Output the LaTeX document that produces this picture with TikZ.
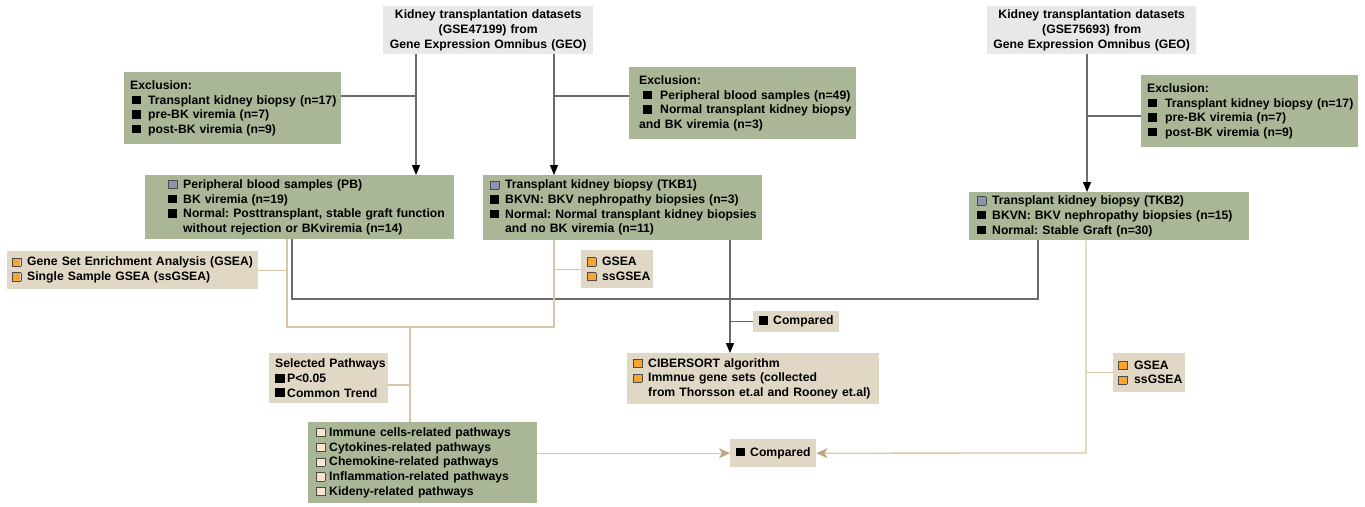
\documentclass[tikz,border=0pt]{standalone}
\usepackage{fontspec}
\setmainfont{Liberation Sans}
\usetikzlibrary{arrows.meta}
\definecolor{grn}{HTML}{A9B797}
\definecolor{boxtan}{HTML}{E1D7C5}
\definecolor{topgray}{HTML}{E8E8E8}
\definecolor{tanline}{HTML}{D9C6A8}
\definecolor{tanarrow}{HTML}{BFA47E}
\definecolor{grayline}{HTML}{6B6B6B}
\definecolor{sqblue}{HTML}{8C94B0}
\definecolor{sqorange}{HTML}{F7A52C}
\definecolor{sqpeach}{HTML}{FBE3CF}
\definecolor{sqedge}{HTML}{4A4A4A}
\newcommand\bsq[1]{\makebox[#1][l]{\rule{8.5pt}{8.5pt}}}
\newcommand\csq[2]{\makebox[#2][l]{\setlength\fboxsep{0pt}\setlength\fboxrule{0.8pt}\fcolorbox{sqedge}{#1}{\rule{0pt}{7.5pt}\hspace{7.5pt}}}}
\newcommand\ls[1]{\leftskip=#1\rightskip=-60pt plus 1fil\relax}
\tikzset{
  base/.style={anchor=north west, inner sep=0pt, align=left, text=black,
    font=\fontsize{12.2}{14.7}\selectfont\bfseries\frenchspacing},
  topbox/.style={base, fill=topgray, align=center},
  gbox/.style={base, fill=grn},
  tbox/.style={base, fill=boxtan},
  gline/.style={draw=grayline, line width=1.3pt},
  tline/.style={draw=tanline, line width=1.3pt},
  garrow/.style={gline, -{Triangle[length=10pt,width=8pt,color=black]}},
  tarrow/.style={tline, -{Stealth[length=11pt,width=10pt,inset=3pt,color=tanarrow]}},
}
\begin{document}
\begin{tikzpicture}[x=1pt,y=-1pt]
\useasboundingbox (0,0) rectangle (1365,506);
% top boxes
\node[topbox, minimum width=210pt, text width=210pt, minimum height=48pt] (top1) at (383,6)
  {Kidney transplantation datasets\\(GSE47199) from\\Gene Expression Omnibus (GEO)};
\node[topbox, minimum width=209pt, text width=209pt, minimum height=48pt] (top2) at (987,6)
  {Kidney transplantation datasets\\(GSE75693) from\\Gene Expression Omnibus (GEO)};
% exclusion boxes
\node[gbox, minimum width=217pt, text width=217pt, minimum height=72pt] (ex1) at (124,72)
  {\ls{6pt}Exclusion:\\\hspace*{2pt}\bsq{16pt}Transplant kidney biopsy (n=17)\\\hspace*{2pt}\bsq{16pt}pre-BK viremia (n=7)\\\hspace*{2pt}\bsq{16pt}post-BK viremia (n=9)\par};
\node[gbox, minimum width=227pt, text width=227pt, minimum height=72pt] (ex2) at (629,67)
  {\ls{10pt}Exclusion:\\\hspace*{4pt}\bsq{17pt}Peripheral blood samples (n=49)\\\hspace*{4pt}\bsq{17pt}Normal transplant kidney biopsy\\and BK viremia (n=3)\par};
\node[gbox, minimum width=217pt, text width=217pt, minimum height=72pt] (ex3) at (1141,75)
  {\ls{6pt}Exclusion:\\\hspace*{1pt}\bsq{17pt}Transplant kidney biopsy (n=17)\\\hspace*{1pt}\bsq{17pt}pre-BK viremia (n=7)\\\hspace*{1pt}\bsq{17pt}post-BK viremia (n=9)\par};
% dataset boxes
\node[gbox, minimum width=309pt, text width=309pt, minimum height=64pt] (pb) at (145,175)
  {\ls{23pt}\csq{sqblue}{15pt}Peripheral blood samples (PB)\\\bsq{15pt}BK viremia (n=19)\\\bsq{15pt}Normal: Posttransplant, stable graft function\\\hspace*{15pt}without rejection or BKviremia (n=14)\par};
\node[gbox, minimum width=279pt, text width=279pt, minimum height=65pt] (tkb1) at (483,175)
  {\ls{7pt}\csq{sqblue}{15pt}Transplant kidney biopsy (TKB1)\\\bsq{15pt}BKVN: BKV nephropathy biopsies (n=3)\\\bsq{15pt}Normal: Normal transplant kidney biopsies\\\hspace*{15pt}and no BK viremia (n=11)\par};
\node[gbox, minimum width=280pt, text width=280pt, minimum height=48pt] (tkb2) at (969,192)
  {\ls{8pt}\csq{sqblue}{15pt}Transplant kidney biopsy (TKB2)\\\bsq{15pt}BKVN: BKV nephropathy biopsies (n=15)\\\bsq{15pt}Normal: Stable Graft (n=30)\par};
% analysis boxes
\node[tbox, minimum width=251pt, text width=251pt, minimum height=38pt] (gseaL) at (7,251)
  {\ls{5pt}\csq{sqorange}{15pt}Gene Set Enrichment Analysis (GSEA)\\\csq{sqorange}{15pt}Single Sample GSEA (ssGSEA)\par};
\node[tbox, minimum width=72pt, text width=72pt, minimum height=38pt] (gseaM) at (581,250)
  {\ls{6pt}\csq{sqorange}{15pt}GSEA\\\csq{sqorange}{15pt}ssGSEA\par};
\node[tbox, minimum width=72pt, text width=72pt, minimum height=39pt] (gseaR) at (1113,353)
  {\ls{5pt}\csq{sqorange}{16pt}GSEA\\\csq{sqorange}{16pt}ssGSEA\par};
\node[tbox, minimum width=119pt, text width=119pt, minimum height=50pt] (sel) at (269,353)
  {\ls{6pt}Selected Pathways\\\makebox[12pt][l]{\rule{10pt}{9pt}}P<0.05\\\makebox[12pt][l]{\rule{10pt}{9pt}}Common Trend\par};
\node[gbox, minimum width=229pt, text width=229pt, minimum height=81pt] (path) at (308,422)
  {\ls{8pt}\csq{sqpeach}{13pt}Immune cells-related pathways\\\csq{sqpeach}{13pt}Cytokines-related pathways\\\csq{sqpeach}{13pt}Chemokine-related pathways\\\csq{sqpeach}{13pt}Inflammation-related pathways\\\csq{sqpeach}{13pt}Kideny-related pathways\par};
\node[tbox, minimum width=86pt, text width=86pt, minimum height=21pt] (cmpU) at (753,311)
  {\ls{6pt}\bsq{14pt}Compared\par};
\node[tbox, minimum width=252pt, text width=252pt, minimum height=51pt] (cib) at (627,353)
  {\ls{6pt}\csq{sqorange}{15pt}CIBERSORT algorithm\\\csq{sqorange}{15pt}Immnue gene sets (collected\\\hspace*{15pt}from Thorsson et.al and Rooney et.al)\par};
\node[tbox, minimum width=86pt, text width=86pt, minimum height=28pt] (cmpL) at (730,439)
  {\ls{6pt}\bsq{14pt}Compared\par};
% connectors from the datasets
\coordinate (j1) at (416,96);
\coordinate (j2) at (554,96);
\coordinate (j3) at (1087,116);
\draw[garrow] (top1.south -| j1) -- (pb.north -| j1);
\draw[gline] (ex1.east |- j1) -- (j1);
\draw[garrow] (top1.south -| j2) -- (tkb1.north -| j2);
\draw[gline] (ex2.west |- j2) -- (j2);
\draw[garrow] (top2.south -| j3) -- (tkb2.north -| j3);
\draw[gline] (ex3.west |- j3) -- (j3);
% gray loop PB - TKB2
\coordinate (g1) at (292,299);
\coordinate (g2) at (1038,299);
\draw[gline] (pb.south -| g1) -- (g1) -- (g2) -- (tkb2.south -| g2);
% tan loop PB - TKB1
\coordinate (t1) at (287,327);
\coordinate (t2) at (554,327);
\coordinate (tm) at (410,327);
\coordinate (s1) at (410,385);
\draw[tline] (pb.south -| t1) -- (t1) -- (t2) -- (tkb1.south -| t2);
\draw[tline] (gseaL.east) -- (gseaL.east -| t1);
\draw[tline] (gseaM.west) -- (gseaM.west -| t2);
\draw[tline] (tm) -- (path.north -| tm);
\draw[tline] (sel.east |- s1) -- (s1);
% TKB1 to CIBERSORT
\coordinate (c1) at (730,322);
\draw[garrow] (tkb1.south -| c1) -- (cib.north -| c1);
\draw[gline] (cmpU.west) -- (cmpU.west -| c1);
% lower compared
\coordinate (r1) at (1086,453);
\draw[tarrow] (path.east |- cmpL.west) -- (cmpL.west);
\draw[tarrow] (tkb2.south -| r1) -- (r1) -- (cmpL.east);
\draw[tline] (gseaR.west) -- (gseaR.west -| r1);
\end{tikzpicture}
\end{document}
